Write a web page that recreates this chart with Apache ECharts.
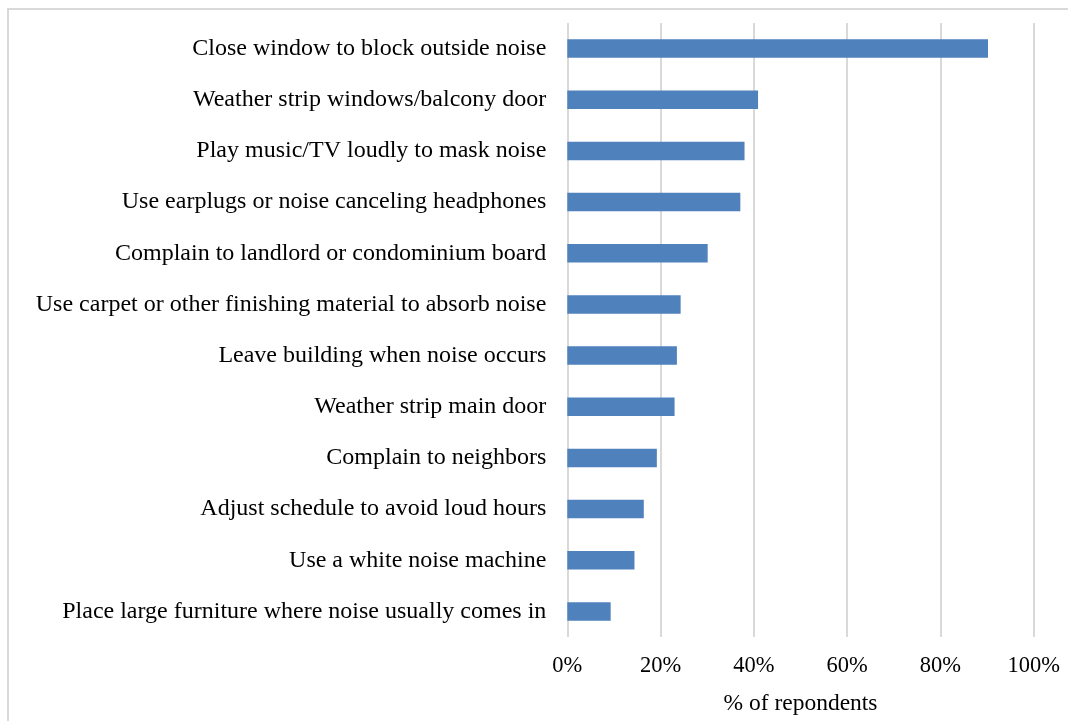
<!DOCTYPE html>
<html>
<head>
<meta charset="utf-8">
<script src="https://cdn.jsdelivr.net/npm/echarts@6/dist/echarts.min.js"></script>
<style>
html,body{margin:0;padding:0;background:#fff;}
#chart{width:1068px;height:721px;}
</style>
</head>
<body>
<div id="chart"></div>
<script>
const categories = [
  "Close window to block outside noise",
  "Weather strip windows/balcony door",
  "Play music/TV loudly to mask noise",
  "Use earplugs or noise canceling headphones",
  "Complain to landlord or condominium board",
  "Use carpet or other finishing material to absorb noise",
  "Leave building when noise occurs",
  "Weather strip main door",
  "Complain to neighbors",
  "Adjust schedule to avoid loud hours",
  "Use a white noise machine",
  "Place large furniture where noise usually comes in"
];
const values = [90.2, 40.9, 38.0, 37.1, 30.1, 24.3, 23.5, 23.0, 19.2, 16.4, 14.4, 9.3];
const xTicks = [0, 20, 40, 60, 80, 100];
const axisTitle = "% of repondents";

const font = "'Liberation Serif', 'Times New Roman', serif";
const chart = echarts.init(document.getElementById('chart'), null, {renderer: 'canvas'});
chart.setOption({
  animation: false,
  backgroundColor: '#fff',
  graphic: [{
    type: 'rect',
    shape: {x: 8, y: 9, width: 1070, height: 720},
    style: {fill: 'none', stroke: '#D9D9D9', lineWidth: 2},
    z: -1
  }],
  grid: {left: 567.3, right: 34.3, top: 23, bottom: 75, containLabel: false},
  xAxis: {
    type: 'value',
    min: xTicks[0],
    max: xTicks[xTicks.length - 1],
    interval: xTicks[1] - xTicks[0],
    axisLine: {show: false},
    axisTick: {show: false},
    splitLine: {show: true, lineStyle: {color: '#D9D9D9', width: 2}},
    axisLabel: {
      formatter: v => v + '%',
      fontFamily: font, fontSize: 22.5, color: '#000', margin: 18
    },
    name: axisTitle,
    nameLocation: 'middle',
    nameGap: 55,
    nameTextStyle: {fontFamily: font, fontSize: 23.5, color: '#000'}
  },
  yAxis: {
    type: 'category',
    inverse: true,
    data: categories,
    axisLine: {show: false},
    axisTick: {show: false},
    axisLabel: {fontFamily: font, fontSize: 24, color: '#000', margin: 21}
  },
  series: [{
    type: 'bar',
    data: values,
    barWidth: '36%',
    itemStyle: {color: '#4F81BD'}
  }]
});
</script>
</body>
</html>
